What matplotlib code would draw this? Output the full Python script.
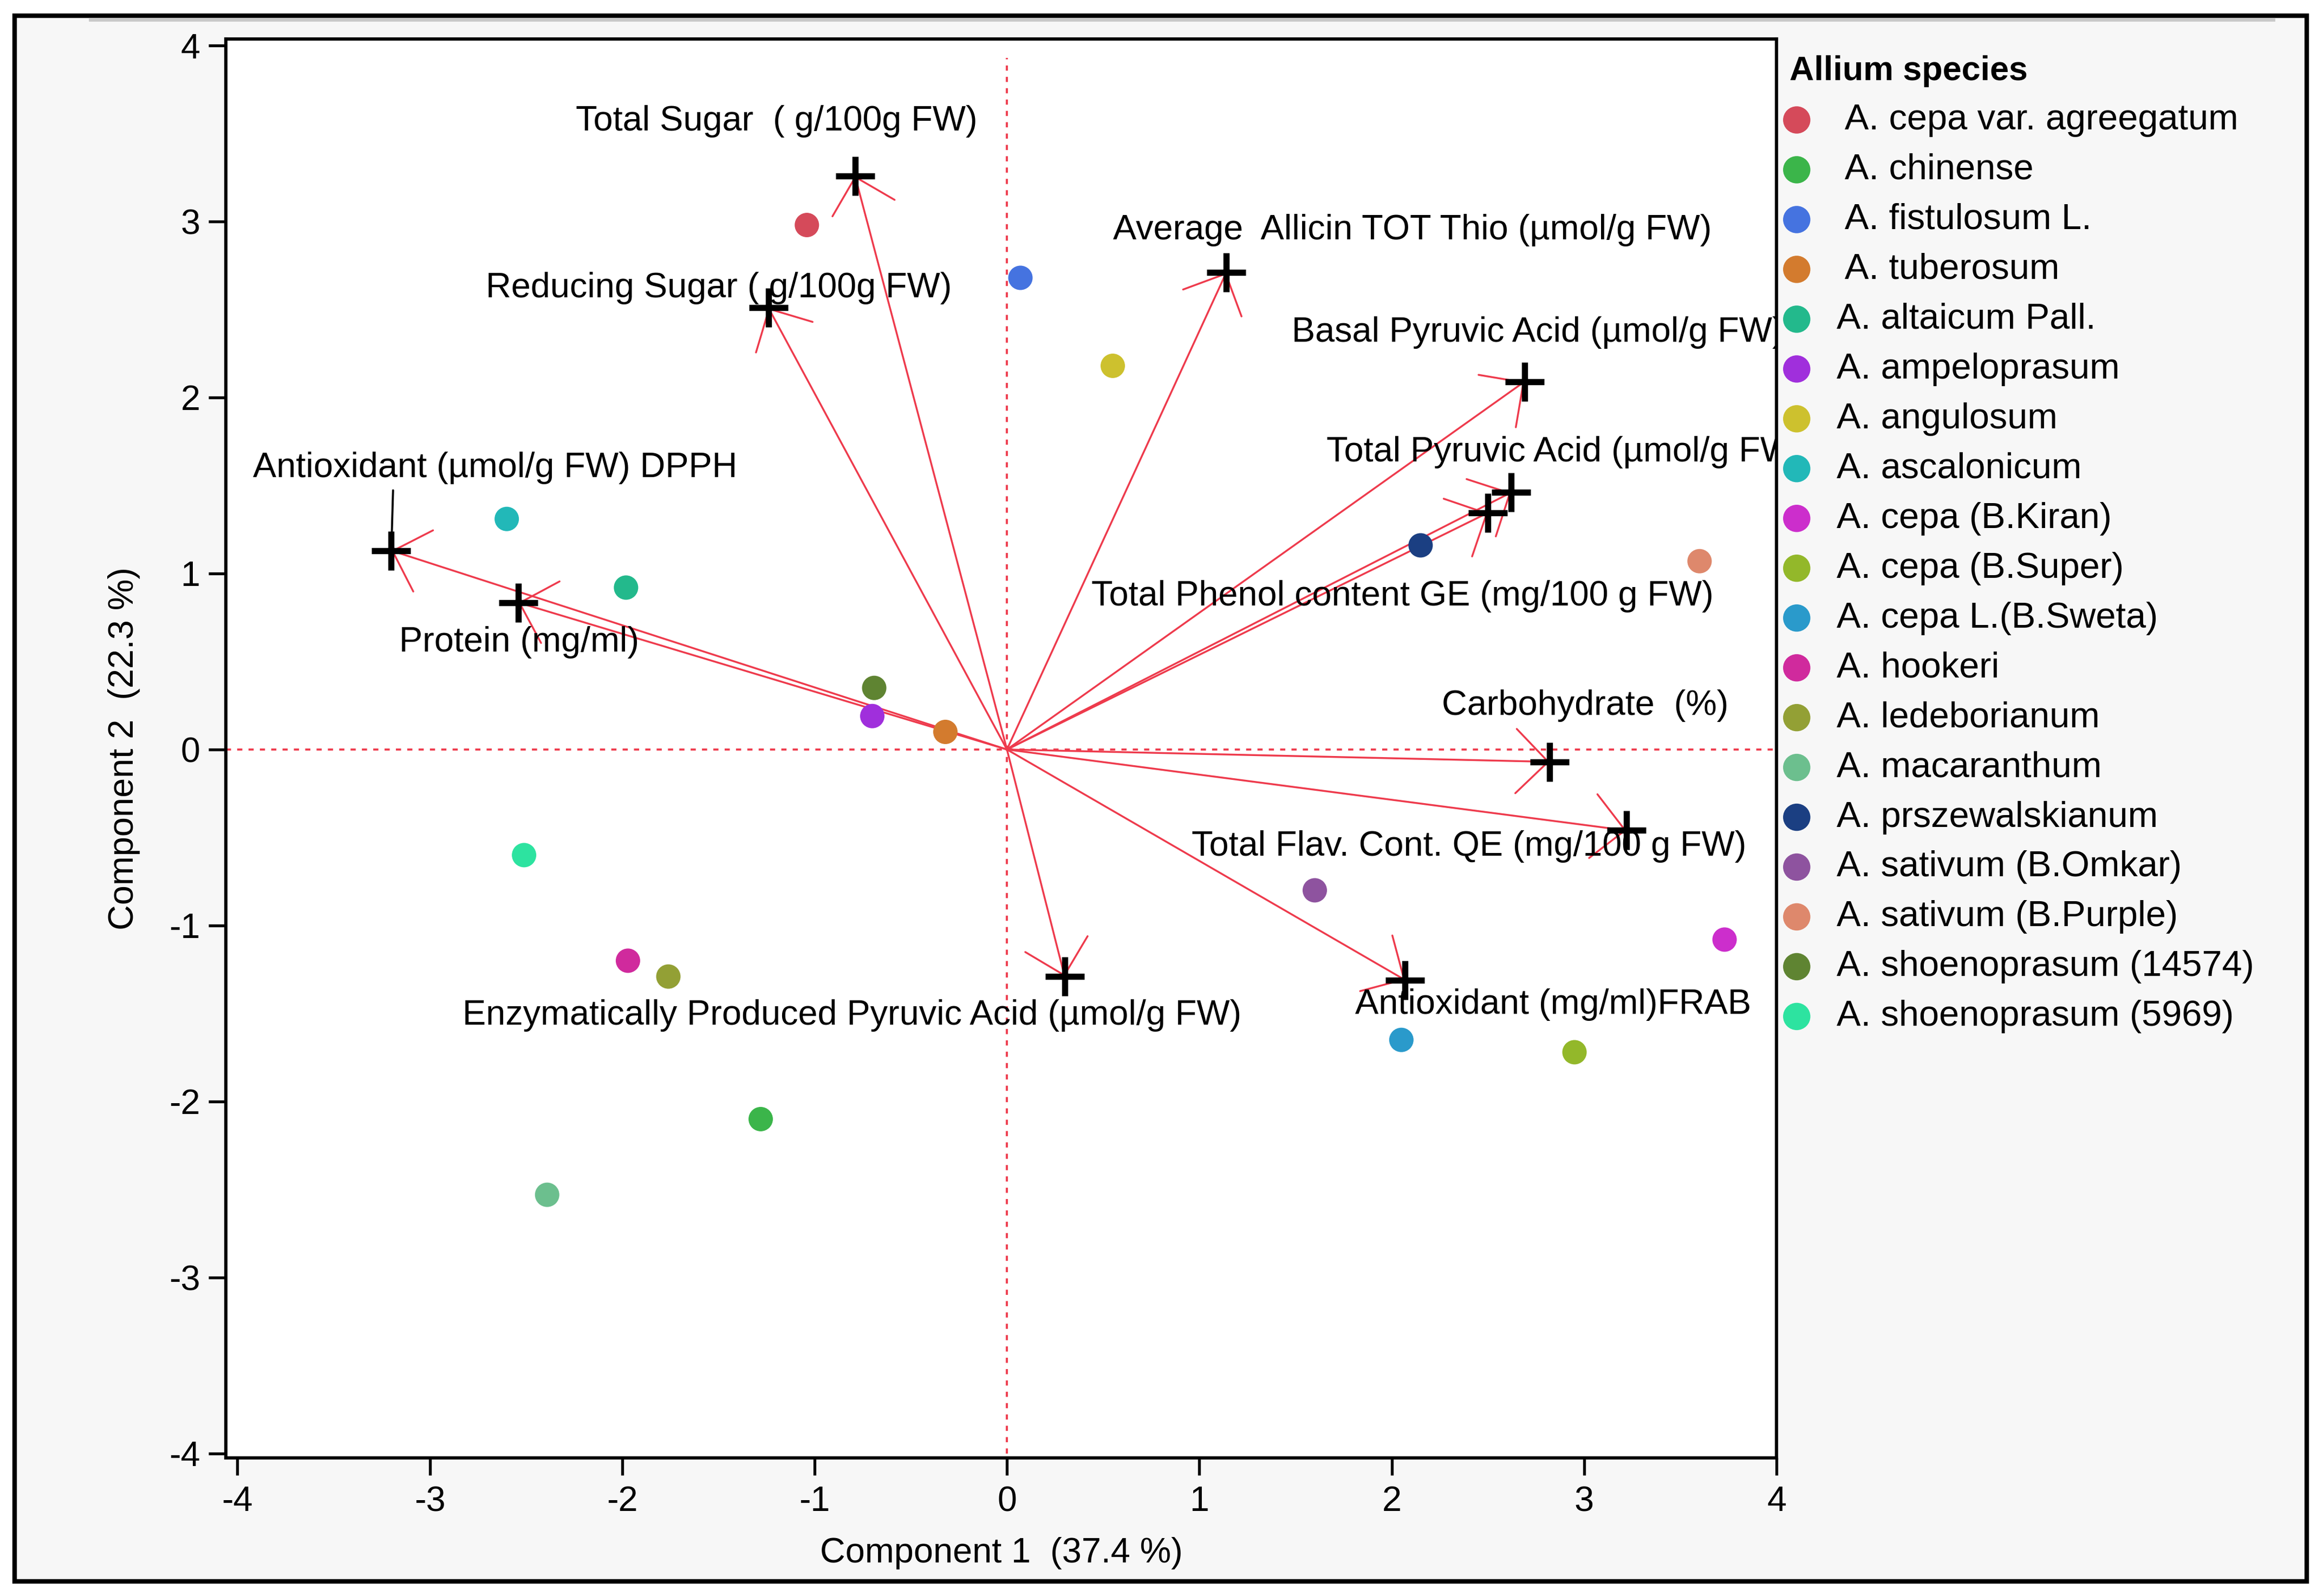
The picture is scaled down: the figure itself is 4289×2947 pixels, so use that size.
import numpy as np
import matplotlib.pyplot as plt
from matplotlib.patches import Rectangle
from matplotlib.lines import Line2D

plt.rcParams['font.family'] = ['Liberation Sans', 'DejaVu Sans']
plt.rcParams['axes.unicode_minus'] = False

# species scores (component 1, component 2)
species = [' A. cepa var. agreegatum', ' A. chinense', ' A. fistulosum L.', ' A. tuberosum',
           'A. altaicum Pall.', 'A. ampeloprasum', 'A. angulosum', 'A. ascalonicum',
           'A. cepa (B.Kiran)', 'A. cepa (B.Super)', 'A. cepa L.(B.Sweta)', 'A. hookeri',
           'A. ledeborianum', 'A. macaranthum', 'A. prszewalskianum', 'A. sativum (B.Omkar)',
           'A. sativum (B.Purple)', 'A. shoenoprasum (14574)', 'A. shoenoprasum (5969)']
pc1 = [-1.04, -1.28, 0.07, -0.32, -1.98, -0.70, 0.55, -2.60, 3.73, 2.95,
       2.05, -1.97, -1.76, -2.39, 2.15, 1.60, 3.60, -0.69, -2.51]
pc2 = [2.98, -2.10, 2.68, 0.10, 0.92, 0.19, 2.18, 1.31, -1.08, -1.72,
       -1.65, -1.20, -1.29, -2.53, 1.16, -0.80, 1.07, 0.35, -0.60]
colors = ['#d54a5a', '#3bb54a', '#4573e0', '#d37b2e', '#23b98c', '#a02fdc', '#cdc12e',
          '#22b8b8', '#cc2ecc', '#93b82a', '#2a9acb', '#d02a9d', '#93a035', '#6cbf8e',
          '#1b3f82', '#8e539f', '#de886c', '#5f8432', '#2de3a0']

# variable loadings
variables = ['Total Sugar  ( g/100g FW)', 'Reducing Sugar ( g/100g FW)',
             'Antioxidant (\u00b5mol/g FW) DPPH', 'Protein (mg/ml)',
             'Average  Allicin TOT Thio (\u00b5mol/g FW)', 'Basal Pyruvic Acid (\u00b5mol/g FW)',
             'Total Pyruvic Acid (\u00b5mol/g FW)', 'Total Phenol content GE (mg/100 g FW)',
             'Carbohydrate  (%)', 'Total Flav. Cont. QE (mg/100 g FW)',
             'Antioxidant (mg/ml)FRAB', 'Enzymatically Produced Pyruvic Acid (\u00b5mol/g FW)']
load1 = [-0.79, -1.24, -3.20, -2.54, 1.14, 2.69, 2.62, 2.50, 2.82, 3.22, 2.07, 0.30]
load2 = [3.26, 2.51, 1.13, 0.835, 2.71, 2.09, 1.46, 1.345, -0.07, -0.46, -1.31, -1.29]

# where each variable name is written (left edge, vertical centre)
label_xy = [(-2.24, 3.57), (-2.71, 2.62), (-3.92, 1.60), (-3.16, 0.61), (0.55, 2.95),
            (1.48, 2.37), (1.66, 1.69), (0.44, 0.87), (2.26, 0.25), (0.96, -0.55),
            (1.81, -1.45), (-2.83, -1.51)]

W, H = 4289, 2947
DPI = 274
red = '#ee3a4c'
fs = 17

fig = plt.figure(figsize=(W / DPI, H / DPI), dpi=DPI, facecolor='white')
fig.add_artist(Rectangle((27 / W, 1 - 2920 / H), (4259 - 27) / W, (2920 - 29) / H,
                         transform=fig.transFigure, facecolor='#f7f7f7',
                         edgecolor='black', lw=2.2, zorder=0))
fig.add_artist(Line2D([167 / W, 4197 / W], [1 - 36 / H, 1 - 36 / H],
                      transform=fig.transFigure, color='#c8c8c8', lw=1.8))

ax = fig.add_axes([417 / W, 1 - 2692 / H, (3280 - 417) / W, (2692 - 72) / H])
ax.set_facecolor('white')
ax.set_xlim(-4.06, 4.0)
ax.set_ylim(-4.025, 4.037)

ax.vlines(0, -4.0, 3.93, colors=red, linestyles=(0, (2.5, 3)), lw=1.0, zorder=1)
ax.hlines(0, -4.06, 4.0, colors=red, linestyles=(0, (2.5, 3)), lw=1.0, zorder=1)

for i in range(len(variables)):
    ax.annotate('', xy=(load1[i], load2[i]), xytext=(0, 0),
                arrowprops=dict(arrowstyle='->,head_length=0.78,head_width=0.78',
                                color=red, lw=0.9, shrinkA=0, shrinkB=0,
                                mutation_scale=20), zorder=2)

for i in range(len(species)):
    ax.scatter(pc1[i], pc2[i], s=140, color=colors[i], edgecolors='none',
               label=species[i], zorder=3)

ax.plot(load1, load2, ls='none', marker='+', ms=19, mew=3, color='black', zorder=4)

for i, name in enumerate(variables):
    tx, ty = label_xy[i]
    if i == 2:
        ax.annotate(name, xy=(load1[i], load2[i]), xytext=(tx, ty), ha='left', va='center',
                    fontsize=fs, zorder=2.5,
                    arrowprops=dict(arrowstyle='-', color='black', lw=1.0,
                                    relpos=(0.29, 0.0), shrinkA=1, shrinkB=0))
    else:
        ax.text(tx, ty, name, ha='left', va='center', fontsize=fs, clip_on=True, zorder=2.5)

ax.set_xticks(np.arange(-4, 5, 1))
ax.set_yticks(np.arange(-4, 5, 1))
ax.tick_params(direction='out', length=8.5, width=1.4, labelsize=fs, pad=4)
ax.tick_params(axis='x', pad=5)
for sp in ax.spines.values():
    sp.set_linewidth(1.6)

ax.set_xlabel('Component 1  (37.4 %)', fontsize=fs, labelpad=9)
ax.set_ylabel('Component 2  (22.3 %)', fontsize=fs, labelpad=14)

leg = fig.legend(loc='upper left', bbox_to_anchor=(3304 / W, 1 - 102 / H),
                 frameon=False, title='Allium species', alignment='left',
                 fontsize=17.5, title_fontproperties={'weight': 'bold', 'size': 16.5},
                 handlelength=0.4, handletextpad=0.9, labelspacing=0.45,
                 markerscale=1.12, borderpad=0, borderaxespad=0)

fig.savefig('out.png', dpi=DPI, facecolor='white')
